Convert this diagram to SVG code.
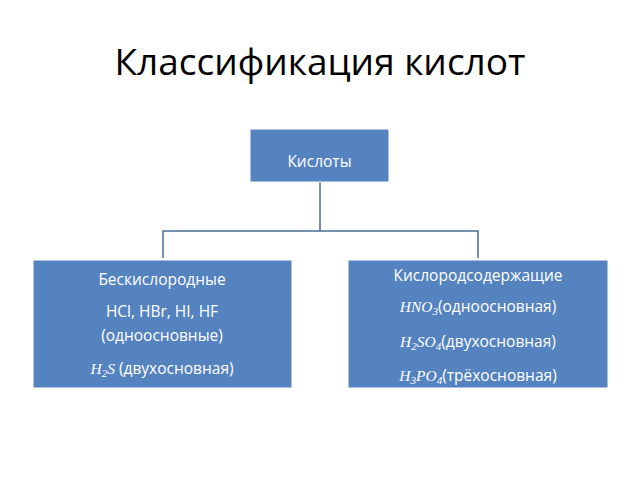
<svg xmlns="http://www.w3.org/2000/svg" width="640" height="480" viewBox="0 0 640 480">
<style>
.box{fill:#5583C0;stroke:#FFFFFF;stroke-width:1}
.t{font-family:"Open Sans","DejaVu Sans",sans-serif;fill:#fff;font-size:15.5px;text-anchor:middle}
.m{font-family:"Liberation Serif",serif;font-style:italic}
.c{fill:none;stroke:#4A6E95;stroke-width:1.5}
</style>
<rect width="640" height="480" fill="#fff"/>
<text x="320" y="75" font-family="Open Sans, DejaVu Sans, sans-serif" font-size="37" text-anchor="middle" fill="#000">Классификация кислот</text>
<g id="connectors">
<path class="c" d="M320 182V231M163 258V231H478V258"/>
</g>
<g id="root">
<rect class="box" x="250" y="129" width="139" height="53"/>
<text class="t" x="319.5" y="167" font-size="28">Кислоты</text>
</g>
<g id="left">
<rect class="box" x="33" y="260" width="259" height="128"/>
<text class="t" x="162" y="285">Бескислородные</text>
<text class="t" x="162" y="317">HCl, HBr, HI, HF</text>
<text class="t" x="162" y="341">(одноосновные)</text>
<text class="t" x="162" y="374"><tspan class="m">H</tspan><tspan class="m" font-size="11" dy="3">2</tspan><tspan class="m" dy="-3">S</tspan> (двухосновная)</text>
</g>
<g id="right">
<rect class="box" x="348" y="260" width="260" height="128"/>
<text class="t" x="478" y="281">Кислородсодержащие</text>
<text class="t" x="478" y="312"><tspan class="m">HNO</tspan><tspan class="m" font-size="11" dy="3">3</tspan><tspan dy="-3">(одноосновная)</tspan></text>
<text class="t" x="478" y="347"><tspan class="m">H</tspan><tspan class="m" font-size="11" dy="3">2</tspan><tspan class="m" dy="-3">SO</tspan><tspan class="m" font-size="11" dy="3">4</tspan><tspan dy="-3">(двухосновная)</tspan></text>
<text class="t" x="478" y="381"><tspan class="m">H</tspan><tspan class="m" font-size="11" dy="3">3</tspan><tspan class="m" dy="-3">PO</tspan><tspan class="m" font-size="11" dy="3">4</tspan><tspan dy="-3">(трёхосновная)</tspan></text>
</g>
</svg>
